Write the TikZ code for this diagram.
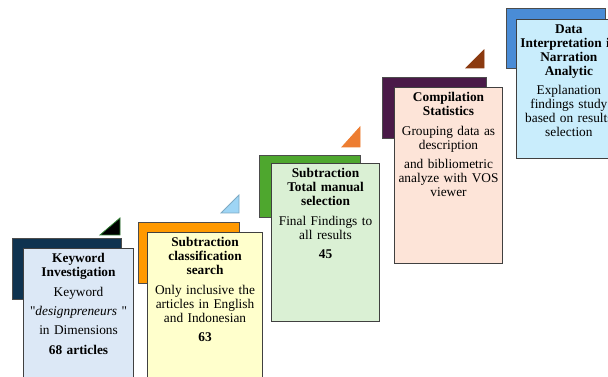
\documentclass[tikz,border=0pt]{standalone}
\usepackage{fontspec}
\setmainfont{Liberation Serif}[Ligatures=TeXOff]
\usepackage{xcolor}
\usepackage{tikz}
\usetikzlibrary{positioning}
\definecolor{navyback}{HTML}{0F3350}
\definecolor{orangeback}{HTML}{FF9900}
\definecolor{greenback}{HTML}{4EA72E}
\definecolor{plumback}{HTML}{4A1A48}
\definecolor{blueback}{HTML}{4A8CD6}
\definecolor{kwfill}{HTML}{DCE8F6}
\definecolor{scfill}{HTML}{FFFFCC}
\definecolor{tmfill}{HTML}{DAF0D4}
\definecolor{csfill}{HTML}{FDE4D8}
\definecolor{difill}{HTML}{C9EDFC}
\definecolor{tricyan}{HTML}{9ED5F5}
\definecolor{triorange}{HTML}{ED7D31}
\definecolor{tribrown}{HTML}{8B3A10}
\definecolor{trigreen}{HTML}{2E7D32}
\tikzset{
  back/.style={draw=black!70, line width=0.6pt, anchor=north west, inner sep=0pt},
  card/.style={draw=black!75, line width=0.8pt, anchor=north west, inner sep=0pt},
  txt/.style={align=center, inner xsep=2pt, inner ysep=4pt, font=\fontsize{10}{10.5}\selectfont},
  tri/.style={line width=0.6pt}
}

\begin{document}
\begin{tikzpicture}[x=0.75pt,y=-0.75pt]
\useasboundingbox (0,0) rectangle (608,377);
\clip (0,0) rectangle (608,377);
% step 1
\node[back, fill=navyback, minimum width=81.75pt, minimum height=45.75pt] (kwback) at (12,238) {};
\node[card, fill=kwfill, minimum width=82.5pt, minimum height=112.5pt] (kwbox) at (23,248) {};
\draw[tri, draw=trigreen, fill=black] (100,235) -- (120,218) -- (120,235) -- cycle;
\node[txt, text width=78pt, below=0pt of kwbox.north] (kwtext) {\textbf{Keyword}\\\textbf{Investigation}\\[4pt]
  Keyword\\[4pt] "\textit{designpreneurs} "\\[4pt] in Dimensions\\[4pt] \textbf{68 articles}};
% step 2
\node[back, fill=orangeback, minimum width=75.75pt, minimum height=45.75pt] (scback) at (138,222) {};
\node[card, fill=scfill, minimum width=86.25pt, minimum height=120pt] (scbox) at (147,232) {};
\draw[tri, draw=tricyan!80!black, fill=tricyan] (221,213) -- (239,195) -- (239,213) -- cycle;
\node[txt, text width=82pt, below=0pt of scbox.north] (sctext) {\textbf{Subtraction}\\\textbf{classification}\\\textbf{search}\\[4pt]
  Only inclusive the\\articles in English\\and Indonesian\\[4pt] \textbf{63}};
% step 3
\node[back, fill=greenback, minimum width=75.75pt, minimum height=46.5pt] (tmback) at (259,155) {};
\node[card, fill=tmfill, minimum width=81pt, minimum height=118.5pt] (tmbox) at (271,163) {};
\draw[tri, draw=triorange, fill=triorange] (342,147) -- (360,127) -- (360,147) -- cycle;
\node[txt, text width=77pt, below=0pt of tmbox.north] (tmtext) {\textbf{Subtraction}\\\textbf{Total manual}\\\textbf{selection}\\[4pt]
  Final Findings to\\all results\\[4pt] \textbf{45}};
% step 4
\node[back, fill=plumback, minimum width=78pt, minimum height=45.75pt] (csback) at (382,77) {};
\node[card, fill=csfill, minimum width=81pt, minimum height=132pt] (csbox) at (394,87) {};
\draw[tri, draw=tribrown, fill=tribrown] (466,68) -- (484,50) -- (484,68) -- cycle;
\node[txt, text width=77pt, below=0pt of csbox.north] (cstext) {\textbf{Compilation}\\\textbf{Statistics}\\[4pt]
  Grouping data as\\description\\[4pt] and bibliometric\\analyze with VOS\\viewer};
% step 5
\node[back, fill=blueback, minimum width=74.25pt, minimum height=45pt] (diback) at (506,8) {};
\node[card, fill=difill, minimum width=82.5pt, minimum height=104.25pt] (dibox) at (516,19) {};
\node[txt, text width=78pt, below=0pt of dibox.north, xshift=-2pt] (ditext) {\textbf{Data}\\\textbf{Interpretation in}\\\textbf{Narration}\\\textbf{Analytic}\\[4pt]
  Explanation\\findings study\\based on results\\selection};
\end{tikzpicture}
\end{document}
